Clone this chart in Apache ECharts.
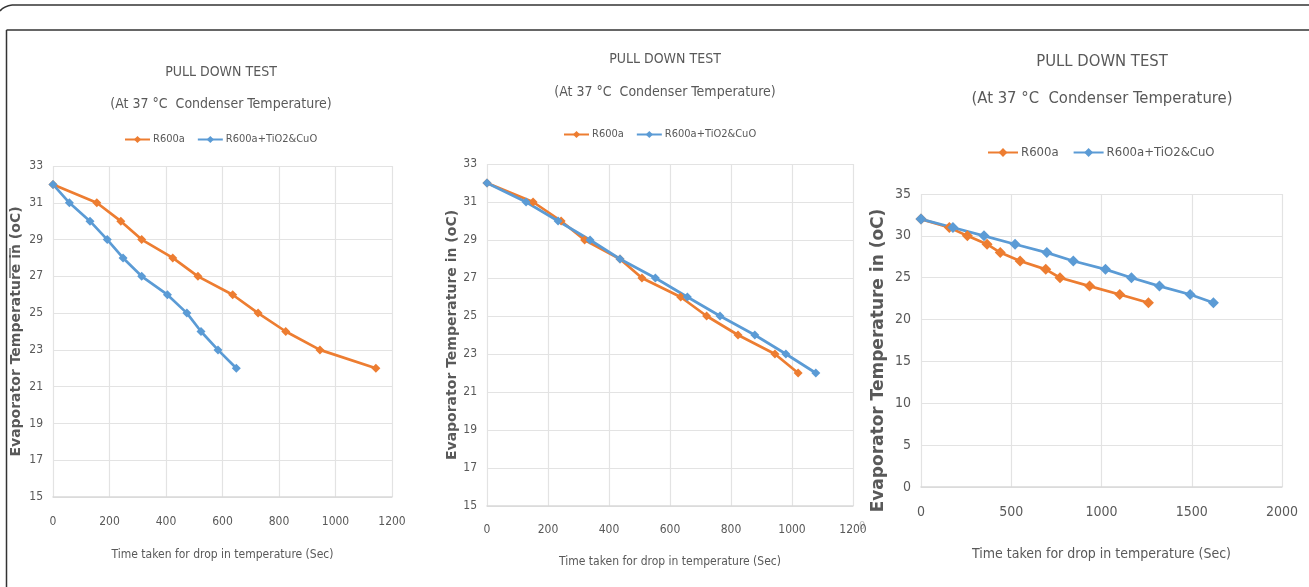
<!DOCTYPE html>
<html>
<head>
<meta charset="utf-8">
<script src="https://cdn.jsdelivr.net/npm/echarts@6/dist/echarts.min.js"></script>
<style>
  html, body { margin: 0; padding: 0; background: #fff; }
  #main { width: 1309px; height: 587px; }
</style>
</head>
<body>
<div id="main"></div>
<script>
// data
var seriesNames = ['R600a', 'R600a+TiO2&CuO'];

var p1TimeBase = [0, 155, 240, 314, 424, 513, 636, 726, 824, 945, 1143];
var p1TempBase = [32, 31, 30, 29, 28, 27, 26, 25, 24, 23, 22];
var p1TimeNano = [0, 58, 131, 192, 248, 314, 405, 474, 524, 584, 649];
var p1TempNano = [32, 31, 30, 29, 28, 27, 26, 25, 24, 23, 22];

var p2TimeBase = [0, 151, 243, 320, 436, 508, 635, 720, 823, 944, 1020];
var p2TempBase = [32, 31, 30, 29, 28, 27, 26, 25, 24, 23, 22];
var p2TimeNano = [0, 128, 233, 338, 436, 552, 657, 764, 878, 980, 1078];
var p2TempNano = [32, 31, 30, 29, 28, 27, 26, 25, 24, 23, 22];

var p3TimeBase = [0, 157, 257, 366, 439, 549, 691, 770, 934, 1101, 1260];
var p3TempBase = [32, 31, 30, 29, 28, 27, 26, 25, 24, 23, 22];
var p3TimeNano = [0, 177, 349, 521, 697, 844, 1022, 1166, 1321, 1491, 1620];
var p3TempNano = [32, 31, 30, 29, 28, 27, 26, 25, 24, 23, 22];

var titleText = 'PULL DOWN TEST';
var subText = '(At 37 \u00B0C  Condenser Temperature)';
var xName = 'Time taken for drop in temperature (Sec)';
var yName = 'Evaporator Temperature in (oC)';

var orange = '#ED7D31';
var blue = '#5B9BD5';
var grey = '#595959';
var font = "'Liberation Sans Narrow', 'DejaVu Sans Condensed', Roboto, sans-serif";

function pairs(xs, ys) {
  return xs.map(function (x, i) { return [x, ys[i]]; });
}

var chart = echarts.init(document.getElementById('main'));

// panel geometry
var panels = [
  { left: 53, width: 339, top: 166, height: 331, cx: 216, tTop: 60, sTop: 92, lLeft: 124, lTop: 134, fs: 1.0, tfs: 14,
    xMax: 1200, xInt: 200, yMin: 15, yMax: 33, yInt: 2, yGap: 30, yPad: 0, xGap: 52, xMargin: 19 },
  { left: 487, width: 366, top: 164, height: 342, cx: 660, tTop: 47, sTop: 80, lLeft: 563, lTop: 129, fs: 1.0, tfs: 14,
    xMax: 1200, xInt: 200, yMin: 15, yMax: 33, yInt: 2, yGap: 26, yPad: 0, xGap: 50, xMargin: 18 },
  { left: 921, width: 361, top: 194, height: 293, cx: 1097, tTop: 48, sTop: 85, lLeft: 987, lTop: 146, fs: 1.18, tfs: 16.5,
    xMax: 2000, xInt: 500, yMin: 0, yMax: 35, yInt: 5, yGap: 34, yPad: 40, xGap: 60, xMargin: 18 }
];

var data = [
  [pairs(p1TimeBase, p1TempBase), pairs(p1TimeNano, p1TempNano)],
  [pairs(p2TimeBase, p2TempBase), pairs(p2TimeNano, p2TempNano)],
  [pairs(p3TimeBase, p3TempBase), pairs(p3TimeNano, p3TempNano)]
];

var frame = { stroke: '#333', lineWidth: 1.5 };

var option = {
  backgroundColor: '#fff',
  animation: false,
  title: [],
  legend: [],
  grid: [],
  xAxis: [],
  yAxis: [],
  series: [],
  graphic: [
    // page frame around the figure
    { type: 'line', shape: { x1: 12, y1: 5, x2: 1309, y2: 5 }, style: frame },
    { type: 'bezierCurve', shape: { x1: 0, y1: 11, x2: 12, y2: 5, cpx1: 4, cpy1: 6 },
      style: { stroke: '#333', lineWidth: 1.5, fill: null } },
    { type: 'line', shape: { x1: 6.5, y1: 30, x2: 1309, y2: 30 }, style: frame },
    { type: 'line', shape: { x1: 6.5, y1: 30, x2: 6.5, y2: 587 }, style: frame },
    // small scan artefacts in the source figure
    { type: 'line', shape: { x1: 10, y1: 248, x2: 10, y2: 278 },
      style: { stroke: '#777', lineWidth: 1.5 } },
    { type: 'text', left: 859, top: 521,
      style: { text: '0', fill: '#bbb', font: "11px 'DejaVu Sans Condensed', sans-serif" } }
  ]
};

panels.forEach(function (p, i) {
  var s = p.fs;
  option.title.push({
    text: titleText,
    left: p.cx, top: p.tTop, textAlign: 'center',
    textStyle: { color: grey, fontFamily: font, fontWeight: 'normal', fontSize: p.tfs }
  });
  option.title.push({
    text: subText,
    left: p.cx, top: p.sTop, textAlign: 'center',
    textStyle: { color: grey, fontFamily: font, fontWeight: 'normal', fontSize: p.tfs }
  });
  option.legend.push({
    data: seriesNames,
    left: p.lLeft, top: p.lTop, width: 400, padding: 0,
    itemWidth: Math.round(25 * s), itemHeight: Math.round(9 * s), itemGap: Math.round(12 * s),
    textStyle: { color: grey, fontFamily: font, fontSize: Math.round(11 * s), padding: [0, 0, 0, -2] }
  });
  option.grid.push({ left: p.left, top: p.top, width: p.width, height: p.height });
  option.xAxis.push({
    type: 'value', gridIndex: i, min: 0, max: p.xMax, interval: p.xInt,
    name: xName, nameLocation: 'middle', nameGap: p.xGap,
    nameTextStyle: { color: grey, fontFamily: font, fontSize: Math.round(12 * s) },
    axisLine: { show: true, lineStyle: { color: '#d9d9d9', width: 1.5 } },
    axisTick: { show: false },
    axisLabel: { color: grey, fontFamily: font, fontSize: Math.round(12 * s), margin: p.xMargin,
      formatter: function (v) { return String(v); } },
    splitLine: { show: true, lineStyle: { color: '#e3e3e3', width: 1.2 } }
  });
  option.yAxis.push({
    type: 'value', gridIndex: i, min: p.yMin, max: p.yMax, interval: p.yInt,
    name: yName, nameLocation: 'middle', nameGap: p.yGap,
    nameTextStyle: { color: grey, fontFamily: 'DejaVu Sans', fontWeight: 'bold', fontSize: Math.round(14 * s),
      padding: [0, p.yPad, 0, 0] },
    axisLine: { show: false },
    axisTick: { show: false },
    axisLabel: { color: grey, fontFamily: font, fontSize: Math.round(12 * s), margin: 10 },
    splitLine: { show: true, lineStyle: { color: '#e3e3e3', width: 1.2 } }
  });
  [orange, blue].forEach(function (c, k) {
    option.series.push({
      name: seriesNames[k],
      type: 'line',
      xAxisIndex: i, yAxisIndex: i,
      data: data[i][k],
      symbol: 'diamond',
      symbolSize: Math.round(9 * s),
      showAllSymbol: true,
      itemStyle: { color: c },
      lineStyle: { color: c, width: 2.7 }
    });
  });
});

chart.setOption(option);
</script>
</body>
</html>
